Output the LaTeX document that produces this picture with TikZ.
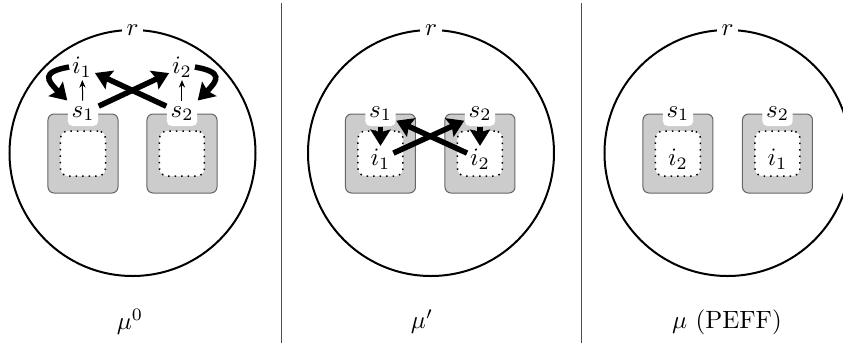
\documentclass[tikz,border=0pt]{standalone}
\usetikzlibrary{arrows.meta}
\begin{document}
\begin{tikzpicture}[x=0.4pt,y=0.4pt,
 ring/.style={draw, line width=0.8pt},
 slot/.style={draw=black!60, fill=black!20, rounded corners=2.4pt, minimum width=28pt, minimum height=31.6pt, inner sep=0pt, line width=0.4pt},
 innerbox/.style={draw, dotted, fill=white, rounded corners=3pt, minimum width=18pt, minimum height=18pt, inner sep=0pt, line width=0.6pt},
 slab/.style={fill=white, rounded corners=2pt, inner sep=1.5pt, minimum width=11pt, minimum height=10pt},
 tag/.style={inner sep=1pt},
 rlab/.style={fill=white, inner sep=2pt},
 big/.style={line width=2.2pt, -{Stealth[length=6.5pt,width=8pt,inset=1pt]}},
 small/.style={line width=0.4pt, -{Stealth[length=3pt,width=2.5pt]}},
 sep/.style={draw=black!70, line width=0.5pt}]

\useasboundingbox (0,0) rectangle (843,343);
\clip (0,0) rectangle (843,343);

% separators
\draw[sep] (281.5,0) -- (281.5,340);
\draw[sep] (581.5,0) -- (581.5,340);

% ---------- panel 1 ----------
\draw[ring] (132.5,190) circle[radius=49.2pt];
\node[rlab] (r1) at (132.5,313) {$r$};
\node[slot] (b1) at (83,189.5) {};
\node[slot] (b2) at (182,189.5) {};
\node[innerbox] (d1) at (b1) {};
\node[innerbox] (d2) at (b2) {};
\node[slab] (s1) at (b1.north) {$s_1$};
\node[slab] (s2) at (b2.north) {$s_2$};
\node[tag] (i1) at (82,276) {$i_1$};
\node[tag] (i2) at (182,276) {$i_2$};
\draw[small] (s1) -- (i1);
\draw[small] (s2) -- (i2);
\draw[big] (s1) -- (i2);
\draw[big] (s2) -- (i1);
\draw[big] (i1.west) to[out=190,in=135,looseness=2.2] (s1.north west);
\draw[big] (i2.east) to[out=-10,in=45,looseness=2.2] (s2.north east);
\node (m1) at (130,21) {$\mu^0$};

% ---------- panel 2 ----------
\draw[ring] (431,190) circle[radius=49.2pt];
\node[rlab] (r2) at (431,313) {$r$};
\node[slot] (b3) at (380.5,189.5) {};
\node[slot] (b4) at (480,189.5) {};
\node[innerbox] (d3) at (b3) {};
\node[innerbox] (d4) at (b4) {};
\node[slab] (s3) at (b3.north) {$s_1$};
\node[slab] (s4) at (b4.north) {$s_2$};
\node[tag] (i3) at (380.5,184) {$i_1$};
\node[tag] (i4) at (480,184) {$i_2$};
\draw[big] (s3) -- (i3);
\draw[big] (s4) -- (i4);
\draw[big] (i3) -- (s4);
\draw[big] (i4) -- (s3);
\node (m2) at (422,21) {$\mu'$};

% ---------- panel 3 ----------
\draw[ring] (727.5,190) circle[radius=49.2pt];
\node[rlab] (r3) at (727.5,313) {$r$};
\node[slot] (b5) at (678,189.5) {};
\node[slot] (b6) at (777.5,189.5) {};
\node[innerbox] (d5) at (b5) {};
\node[innerbox] (d6) at (b6) {};
\node[slab] (s5) at (b5.north) {$s_1$};
\node[slab] (s6) at (b6.north) {$s_2$};
\node[tag] (i5) at (678,184) {$i_2$};
\node[tag] (i6) at (777.5,184) {$i_1$};
\node (m3) at (727,21) {$\mu$ (PEFF)};
\end{tikzpicture}
\end{document}
